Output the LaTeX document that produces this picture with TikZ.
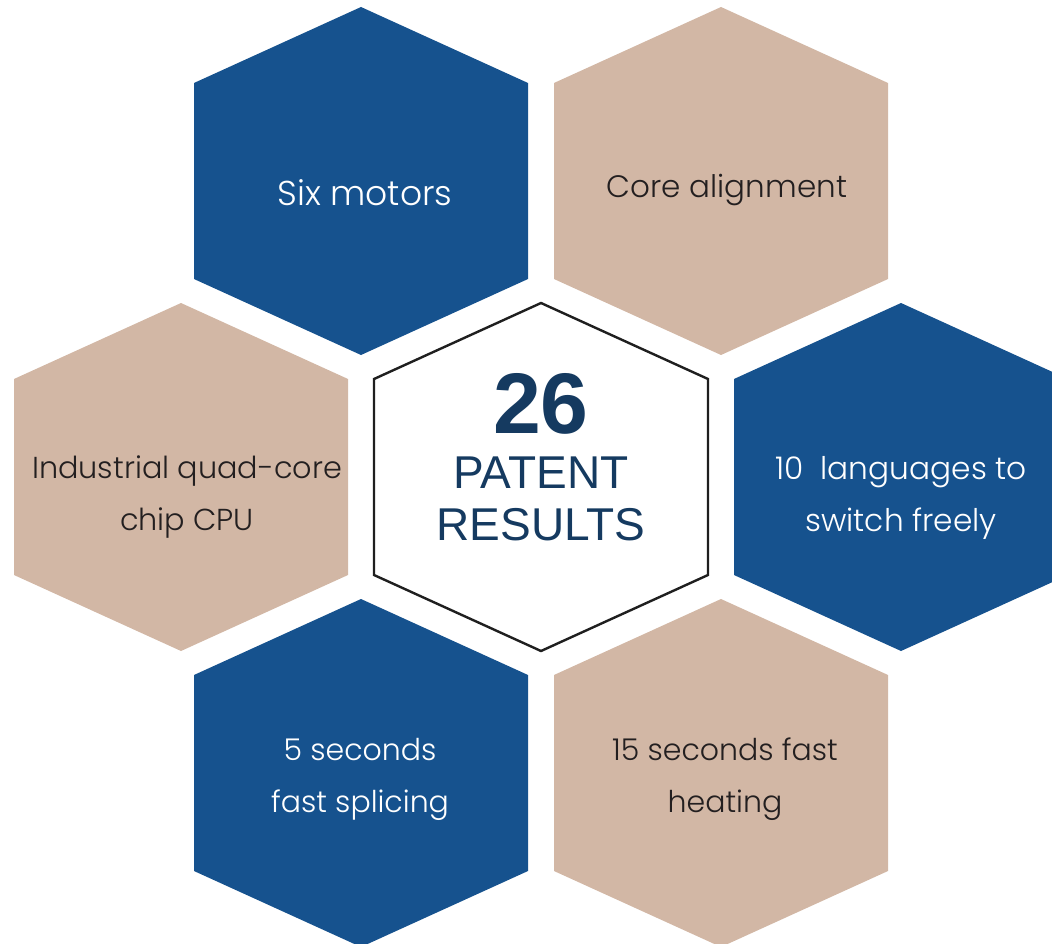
\documentclass[tikz,border=0pt]{standalone}
\usepackage{fontspec}
\newfontfamily\hexfont{Poppins Light}
\newfontfamily\arialfont{Liberation Sans}
\definecolor{hexblue}{HTML}{16528E}
\definecolor{hextan}{HTML}{D2B7A5}
\definecolor{navy}{HTML}{153A60}
\definecolor{darktext}{HTML}{231F20}
\newcommand{\hexpath}[2]{(#1,#2-174) -- (#1+167,#2-98) -- (#1+167,#2+98) -- (#1,#2+174) -- (#1-167,#2+98) -- (#1-167,#2-98) -- cycle}
\begin{document}
\begin{tikzpicture}[x=1pt,y=-1pt,
  bluehex/.style={fill=hexblue,draw=none},
  tanhex/.style={fill=hextan,draw=none},
  centerhex/.style={fill=white,draw=black!88,line width=2.4pt,line join=miter},
  whitelabel/.style={text=white,font=\hexfont\fontsize{30}{52}\selectfont,align=center,inner sep=0pt},
  darklabel/.style={text=darktext,font=\hexfont\fontsize{30}{52}\selectfont,align=center,inner sep=0pt},
  biglabel/.style={text=navy,align=center,inner sep=0pt}]
\useasboundingbox (0,0) rectangle (1052,944);
\begin{scope}
\clip (0,0) rectangle (1052,944);
\fill[bluehex] \hexpath{361}{181};
\fill[tanhex] \hexpath{721}{181};
\fill[tanhex] \hexpath{181}{477};
\filldraw[centerhex] \hexpath{541}{477};
\fill[bluehex] \hexpath{901}{477};
\fill[bluehex] \hexpath{361}{773};
\fill[tanhex] \hexpath{721}{773};
\end{scope}
\node[whitelabel,font=\hexfont\fontsize{34.5}{52}\selectfont] (six) at (365,193) {Six motors};
\node[darklabel,font=\hexfont\fontsize{31}{52}\selectfont] (core) at (727,190) {Core alignment};
\node[darklabel,font=\hexfont\fontsize{30.3}{52}\selectfont] (cpu) at (187,497) {Industrial quad-core\\chip CPU};
\node[whitelabel,font=\hexfont\fontsize{31.2}{52}\selectfont] (lang) at (901,498) {10\ \ languages to\\switch freely};
\node[whitelabel] (five) at (360,779) {5 seconds\\fast splicing};
\node[darklabel] (fifteen) at (725,779) {15 seconds fast\\heating};
\node[biglabel,font=\arialfont\bfseries\fontsize{86}{86}\selectfont] (num) at (541,404) {26};
\node[biglabel,font=\arialfont\fontsize{46}{51.5}\selectfont] (pat) at (541,499) {PATENT\\RESULTS};
\end{tikzpicture}
\end{document}
